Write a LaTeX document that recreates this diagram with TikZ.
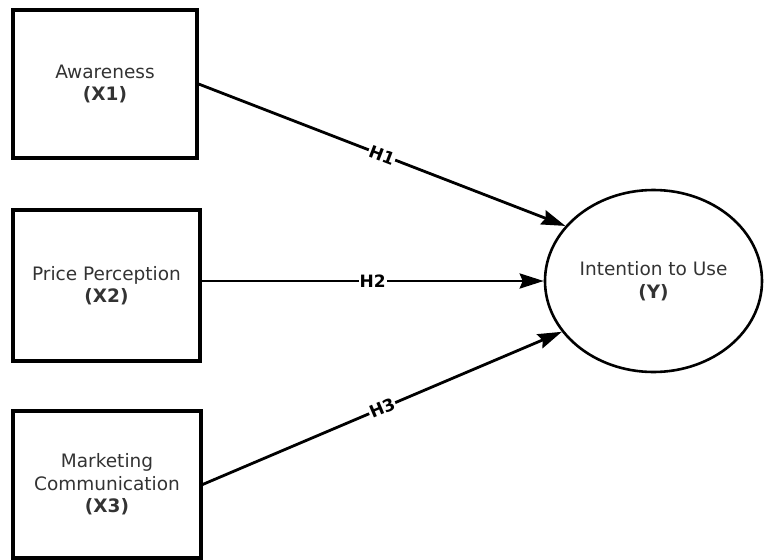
\documentclass[tikz,border=0pt]{standalone}
\usepackage{fontspec}
\setmainfont{DejaVu Sans}
\usetikzlibrary{shapes,arrows.meta,positioning}

\begin{document}
\begin{tikzpicture}[
    x=1pt, y=-1pt,
    construct/.style={draw, line width=3.2pt, align=center, inner sep=0pt, text=black!80,
        font=\fontsize{18.5}{22.5}\selectfont},
    latent/.style={construct, ellipse, line width=2.6pt, minimum width=217pt, minimum height=182pt},
    arrow/.style={-{Stealth[length=24pt, width=15pt, inset=3pt]}, line width=2.8pt},
    hyp/.style={font=\fontsize{17}{20}\selectfont\bfseries, fill=white, inner sep=1pt}
]
\useasboundingbox (0,0) rectangle (764,560);

% exogenous constructs
\node[construct, minimum width=184pt, minimum height=148pt] (X1) at (105,84) {Awareness\\\textbf{(X1)}};
\node[construct, minimum width=187pt, minimum height=151pt] (X2) at (106.5,285.5) {Price Perception\\\textbf{(X2)}};
\node[construct, minimum width=188pt, minimum height=147pt] (X3) at (107,484.5) {Marketing\\Communication\\\textbf{(X3)}};

% endogenous construct
\node[latent] (Y) at (653.5,281) {Intention to Use\\\textbf{(Y)}};

% hypotheses
\draw[arrow] (X1.east) -- (Y.148) node[midway, hyp, sloped] {H1};
\draw[arrow] (X2.east |- Y.west) -- (Y.west) node[midway, hyp] {H2};
\draw[arrow] (X3.east) -- (Y.209) node[midway, hyp, sloped] {H3};

\end{tikzpicture}
\end{document}
